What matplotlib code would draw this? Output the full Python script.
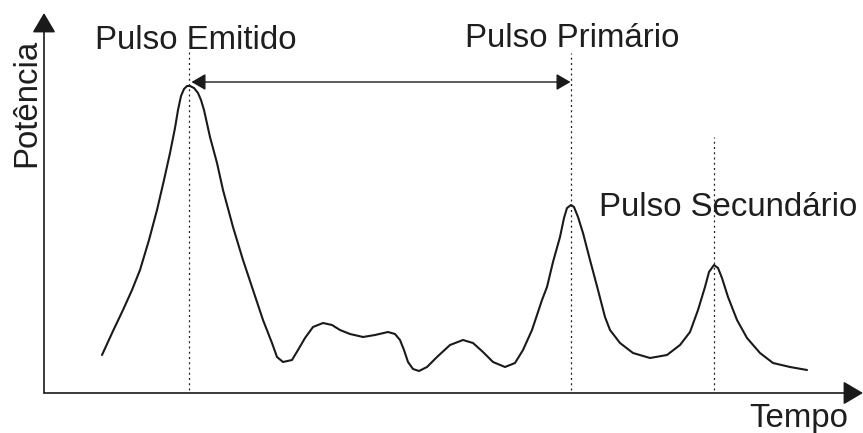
import matplotlib

matplotlib.use("Agg")
import matplotlib.pyplot as plt

tempo = [102, 113, 123, 132, 140, 149, 157, 164, 170, 175, 178, 181, 184, 187, 190,
         194, 198, 201, 204, 210, 217, 223, 233, 243, 253, 263, 272, 277, 283, 292,
         298, 305, 313, 323, 332, 340, 350, 363, 375, 388, 395, 400, 404, 408, 413,
         419, 427, 437, 450, 463, 473, 483, 493, 505, 515, 523, 532, 542, 547, 553,
         560, 564, 567, 571, 574, 578, 583, 590, 598, 605, 610, 620, 633, 650, 667,
         680, 690, 698, 705, 709, 714, 718, 722, 728, 737, 747, 760, 773, 790, 807]
potencia = [38, 62, 83, 103, 123, 153, 183, 213, 240, 265, 283, 297, 304, 307, 307,
            305, 300, 293, 283, 256, 230, 203, 166, 133, 103, 73, 50, 36, 31, 33,
            43, 55, 66, 70, 68, 63, 59, 56, 58, 61, 59, 53, 43, 31, 24,
            22, 26, 36, 48, 53, 50, 41, 31, 26, 30, 43, 63, 93, 106, 131,
            156, 175, 185, 188, 186, 176, 160, 133, 103, 76, 63, 50, 40, 35, 38,
            48, 61, 83, 106, 121, 128, 125, 115, 96, 73, 55, 40, 30, 26, 23]

# markers for the three pulses (dotted guides) and their labels
pulso_t = [189, 571, 714]
pulso_topo = [343, 340, 256]
rotulos = ["Pulso Emitido", "Pulso Primário", "Pulso Secundário"]
rotulo_pos = [(95, 344), (465, 346), (599, 177)]

fig = plt.figure(figsize=(8.63, 4.33), dpi=100)
ax = fig.add_axes([0, 0, 1, 1])
ax.set_xlim(0, 863)
ax.set_ylim(-40, 393)
ax.axis("off")

fonte = dict(family=["Liberation Sans", "DejaVu Sans"], fontsize=23.8, color="#1e1e1e")

ax.plot(tempo, potencia, color="#1a1a1a", lw=1.5, solid_joinstyle="round",
        solid_capstyle="round")

for t, topo in zip(pulso_t, pulso_topo):
    ax.plot([t, t], [3, topo], color="#222222", lw=0.9, ls=(0, (1.6, 2.6)))

# axes with arrow heads
seta = dict(arrowstyle="-|>,head_length=1.22,head_width=0.72", mutation_scale=10,
            lw=1.2, color="#1a1a1a", shrinkA=0, shrinkB=0)
ax.annotate("", xy=(863, 0), xytext=(44, 0), arrowprops=seta)
ax.annotate("", xy=(44, 380), xytext=(44, 0), arrowprops=seta)

# delay between emitted and primary pulse
ax.annotate("", xy=(191.5, 311), xytext=(570.5, 311),
            arrowprops=dict(arrowstyle="<|-|>,head_length=0.86,head_width=0.5",
                            mutation_scale=10, lw=1.0, color="#1a1a1a",
                            shrinkA=0, shrinkB=0))

for txt, (x, y) in zip(rotulos, rotulo_pos):
    ax.text(x, y, txt, ha="left", va="baseline", **fonte)
ax.text(749, -34, "Tempo", ha="left", va="baseline", **fonte)
ax.text(27, 290, "Potência", rotation=90, ha="center", va="center", **fonte)

fig.savefig("out.png", dpi=100)
